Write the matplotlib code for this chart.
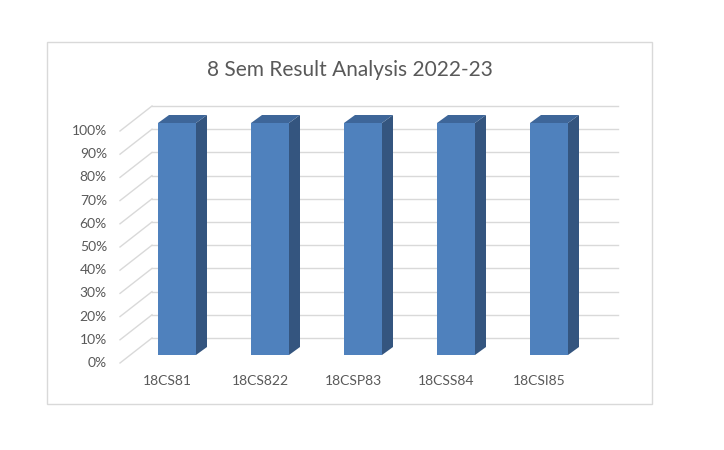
import matplotlib.pyplot as plt
from matplotlib.patches import Polygon, Rectangle

plt.rcParams['font.family'] = ['Lato', 'DejaVu Sans']

subjects = ['18CS81', '18CS822', '18CSP83', '18CSS84', '18CSI85']
pass_pct = [1.0, 1.0, 1.0, 1.0, 1.0]
ticks = [0.0, 0.1, 0.2, 0.3, 0.4, 0.5, 0.6, 0.7, 0.8, 0.9, 1.0]
tick_labels = ['0%', '10%', '20%', '30%', '40%', '50%', '60%', '70%', '80%', '90%', '100%']

W, H = 724, 450
PX_X = 93.0    # pixels per category
PX_Y = 232.0   # pixels per 100%
X0, Y0 = 177.0, 355.0   # pixel position of first bar centre / zero line

front_color = '#4f81bd'
side_color = '#34557f'
top_color = '#3e6699'
grid_color = '#d9d9d9'
text_color = '#595959'

bar_w = 38 / PX_X
bar_dx, bar_dy = 11 / PX_X, 8 / PX_Y
front_dx, front_dy = -10 / PX_X, -8 / PX_Y
back_dx, back_dy = 22 / PX_X, 17 / PX_Y
wall_left_front = (120 - X0) / PX_X
wall_right_back = (618 - X0) / PX_X

fig = plt.figure(figsize=(W / 100, H / 100), dpi=100)
ax = fig.add_axes([0, 0, 1, 1])
ax.set_xlim(-X0 / PX_X, (W - X0) / PX_X)
ax.set_ylim((Y0 - H) / PX_Y, Y0 / PX_Y)
ax.axis('off')

# chart frame
fig.patches.append(Rectangle((47 / W, 1 - 404 / H), 605 / W, 362 / H,
                             transform=fig.transFigure, fill=False,
                             edgecolor='#d9d9d9', linewidth=1))

fig.text(349.5 / W, 1 - 70 / H, '8 Sem Result Analysis 2022-23',
         ha='center', va='center', fontsize=15, color=text_color)

# walls / gridlines
for v, lab in zip(ticks, tick_labels):
    ax.plot([wall_left_front, wall_left_front + (back_dx - front_dx)],
            [v + front_dy, v + back_dy], color=grid_color, lw=1, zorder=1)
    ax.plot([wall_left_front + (back_dx - front_dx), wall_right_back],
            [v + back_dy, v + back_dy], color=grid_color, lw=1, zorder=1)
    ax.text((107 - X0) / PX_X, v + front_dy, lab, ha='right', va='center',
            fontsize=10, color=text_color)

# bars
for i, (name, val) in enumerate(zip(subjects, pass_pct)):
    l, r = i - bar_w / 2, i + bar_w / 2
    ax.bar(i, val, width=bar_w, color=front_color, zorder=3, linewidth=0)
    ax.add_patch(Polygon([(r, 0), (r + bar_dx, bar_dy), (r + bar_dx, val + bar_dy), (r, val)],
                         closed=True, facecolor=side_color, linewidth=0, zorder=3))
    ax.add_patch(Polygon([(l, val), (r, val), (r + bar_dx, val + bar_dy), (l + bar_dx, val + bar_dy)],
                         closed=True, facecolor=top_color, linewidth=0, zorder=3))
    ax.text(i + front_dx, (Y0 - 381) / PX_Y, name, ha='center', va='center',
            fontsize=10, color=text_color)

fig.savefig('out.png', dpi=100)
